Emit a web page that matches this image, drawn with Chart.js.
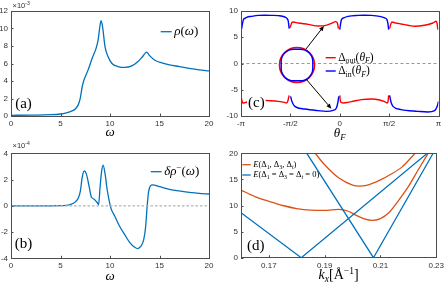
<!DOCTYPE html>
<html>
<head>
<meta charset="utf-8">
<script src="https://cdn.jsdelivr.net/npm/chart.js@4.4.0/dist/chart.umd.min.js"></script>
<style>
html, body { margin: 0; padding: 0; background: #fff; }
#wrap { position: relative; width: 447px; height: 283px; overflow: hidden; }
canvas { position: absolute; }
</style>
</head>
<body>
<div id="wrap">
  <canvas id="ca" width="224" height="145" style="left:0;top:0"></canvas>
  <canvas id="cc" width="223" height="145" style="left:224px;top:0"></canvas>
  <canvas id="cb" width="224" height="143" style="left:0;top:140px"></canvas>
  <canvas id="cd" width="223" height="143" style="left:224px;top:140px"></canvas>
</div>
<script>
// (a) density of states rho(w), units of 1e-3
const omegaA = [0, 2, 4, 5, 5.5, 6, 6.5, 6.8, 7.0, 7.2, 7.4, 7.8, 8.2, 8.6, 8.8, 9.0, 9.1, 9.25, 9.5, 9.8, 10.2, 10.8, 11.5, 12.2, 12.8, 13.3, 13.7, 14.0, 14.5, 15, 16, 17, 18, 19, 20];
const rhoA = [0.08, 0.1, 0.15, 0.23, 0.32, 0.5, 0.8, 1.3, 2.05, 3.4, 4.2, 5.3, 6.6, 7.75, 8.7, 10.4, 10.9, 10.2, 7.9, 6.8, 6.0, 5.65, 5.55, 5.72, 6.2, 6.8, 7.3, 6.9, 6.4, 6.15, 5.85, 5.65, 5.45, 5.28, 5.15];

// (b) delta rho^-(w), units of 1e-4
const omegaB = [0, 4, 5, 5.5, 6, 6.5, 6.8, 7.0, 7.2, 7.4, 7.6, 7.9, 8.1, 8.4, 8.7, 8.85, 9.0, 9.15, 9.3, 9.5, 9.7, 9.9, 10.1, 10.5, 11, 11.5, 12, 12.5, 12.8, 13.1, 13.4, 13.6, 13.75, 13.9, 14.1, 14.3, 15, 16, 17, 18, 19, 20];
const drhoB = [0, 0, 0.01, 0.03, 0.1, 0.3, 0.6, 1.1, 2.2, 2.65, 2.45, 1.45, 0.7, 0.5, 0.25, 0.1, 1.45, 2.6, 3.1, 2.45, 1.3, 0.45, -0.2, -0.82, -1.6, -2.22, -2.8, -3.16, -3.26, -3.1, -2.6, -1.6, -0.05, 1.08, 1.54, 1.6, 1.46, 1.26, 1.13, 1.03, 0.95, 0.9];

// (c) gaps along the Fermi surface, theta in units of pi
const thInTop1 = [-0.993, -0.985, -0.976, -0.96, -0.943, -0.892, -0.825, -0.76, -0.69, -0.623, -0.556, -0.535, -0.522, -0.512];
const gInTop1 = [6.63, 7.6, 8.35, 8.6, 8.79, 8.98, 9.17, 9.2, 9.17, 9.11, 8.86, 8.6, 8.1, 6.63];
const thOutTop1 = [-0.505, -0.495, -0.488, -0.471, -0.421, -0.32, -0.219, -0.152, -0.084, -0.04, -0.024, -0.013];
const gOutTop1 = [6.76, 7.3, 7.71, 7.9, 7.71, 7.46, 7.14, 7.21, 7.65, 7.97, 7.71, 6.63];
const thInTop2 = [0.0, 0.008, 0.017, 0.04, 0.084, 0.185, 0.25, 0.32, 0.404, 0.455, 0.478, 0.488, 0.495];
const gInTop2 = [6.44, 7.5, 8.35, 8.7, 8.98, 9.17, 9.2, 9.17, 8.98, 8.67, 8.35, 7.6, 6.44];
const thOutTop2 = [0.505, 0.515, 0.529, 0.56, 0.623, 0.69, 0.758, 0.859, 0.943, 0.976, 0.986, 0.993];
const gOutTop2 = [6.63, 7.4, 7.9, 7.75, 7.52, 7.28, 7.09, 7.28, 7.71, 8.04, 7.6, 6.44];
const thOutBot1 = [-1.0, -0.99, -0.983, -0.96, -0.9, -0.82, -0.724, -0.623, -0.56, -0.539, -0.525, -0.512];
const gOutBot1 = [-6.25, -7.1, -7.52, -7.45, -7.2, -7.0, -7.08, -7.21, -7.4, -7.52, -7.1, -6.06];
const thInBot1 = [-0.498, -0.488, -0.478, -0.455, -0.354, -0.219, -0.135, -0.067, -0.034, -0.017, -0.01];
const gInBot1 = [-6.25, -7.0, -7.52, -8.16, -8.67, -8.98, -9.11, -8.92, -8.48, -7.2, -6.25];
const thOutBot2 = [0.0, 0.007, 0.02, 0.034, 0.118, 0.219, 0.32, 0.404, 0.455, 0.481, 0.49, 0.495];
const gOutBot2 = [-6.06, -7.2, -7.45, -7.52, -7.27, -6.89, -6.76, -6.95, -7.27, -7.52, -7.1, -6.06];
const thInBot2 = [0.505, 0.515, 0.522, 0.539, 0.623, 0.791, 0.892, 0.96, 0.987, 1.0];
const gInBot2 = [-6.06, -7.0, -7.52, -8.16, -8.79, -9.11, -9.24, -8.98, -8.16, -7.2];
const thetaTicks = [-1, -0.5, 0, 0.5, 1];
const thetaTickLabels = ['-\u03c0', '-\u03c0/2', '0', '\u03c0/2', '\u03c0'];

// (d) bands vs k_x
const kBlue1 = [0.16, 0.1816, 0.2268];
const eBlue1 = [8.6, 0, 20];
const kBlue2 = [0.1836, 0.2075, 0.2289];
const eBlue2 = [20, 0, 20];
const kOrangeUp = [0.1866, 0.19, 0.195, 0.2, 0.2025, 0.205, 0.21, 0.2131, 0.2178, 0.2224];
const eOrangeUp = [20, 17.8, 15.3, 13.9, 13.7, 13.85, 14.9, 15.8, 17.4, 20];
const kOrangeLo = [0.16, 0.165, 0.17, 0.175, 0.18, 0.185, 0.19, 0.195, 0.1985, 0.201, 0.204, 0.207, 0.21, 0.213, 0.216, 0.22, 0.2235, 0.2271];
const eOrangeLo = [12.97, 11.7, 10.8, 10.0, 9.4, 9.1, 9.05, 9.25, 8.9, 8.2, 7.5, 7.15, 7.5, 8.6, 10.6, 13.6, 16.8, 20];
const kTicks = [0.17, 0.19, 0.21, 0.23];
const kTickLabels = ['0.17', '0.19', '0.21', '0.23'];

const BLUE = '#0072BD', ORANGE = '#D95319';
const SERIF = '"Liberation Serif", "DejaVu Serif", serif';
const SANS = '"Liberation Sans", Arial, sans-serif';

function line(xs, ys, color, w, extra) {
    return Object.assign({
        data: xs.map((x, i) => ({ x, y: ys[i] })),
        showLine: true,
        borderColor: color,
        borderWidth: w,
        pointRadius: 0,
        fill: false,
        cubicInterpolationMode: 'monotone'
    }, extra || {});
}

// text with sub/superscripts: kind r, i, sr, si, pr
function rich(ctx, parts, x, y, size, align, fam) {
    fam = fam || SERIF;
    const fonts = parts.map(([t, k]) => {
        const small = k[0] === 's' || k[0] === 'p';
        return (k.slice(-1) === 'i' ? 'italic ' : '') + (small ? size * 0.68 : size).toFixed(1) + 'px ' + fam;
    });
    let w = 0;
    const ws = parts.map(([t], i) => { ctx.font = fonts[i]; const m = ctx.measureText(t).width; w += m; return m; });
    let cx = align === 'center' ? x - w / 2 : x;
    ctx.textAlign = 'left';
    ctx.textBaseline = 'middle';
    parts.forEach(([t, k], i) => {
        ctx.font = fonts[i];
        const dy = k[0] === 's' ? size * 0.3 : k[0] === 'p' ? -size * 0.32 : 0;
        ctx.fillText(t, cx, y + dy);
        cx += ws[i];
    });
}

function arrow(ctx, x0, y0, x1, y1) {
    const a = Math.atan2(y1 - y0, x1 - x0), L = 5, W = 2.2;
    const bx = x1 - L * Math.cos(a), by = y1 - L * Math.sin(a);
    ctx.beginPath(); ctx.moveTo(x0, y0); ctx.lineTo(bx, by); ctx.stroke();
    ctx.beginPath(); ctx.moveTo(x1, y1);
    ctx.lineTo(bx + W * Math.sin(a), by - W * Math.cos(a));
    ctx.lineTo(bx - W * Math.sin(a), by + W * Math.cos(a));
    ctx.closePath(); ctx.fill();
}

function deco(o) {
    return {
        id: 'deco',
        afterDraw(chart) {
            const { ctx, chartArea: a, scales: { x, y } } = chart;
            ctx.save();
            if (o.extra) o.extra(chart);
            // legend
            (o.legend || []).forEach(l => {
                ctx.strokeStyle = l.color; ctx.lineWidth = l.w;
                ctx.beginPath(); ctx.moveTo(l.x0, l.y); ctx.lineTo(l.x1, l.y); ctx.stroke();
                ctx.fillStyle = '#000';
                rich(ctx, l.text, l.x1 + 2.5, l.y, l.size, 'left');
            });
            // panel letter
            ctx.font = '15px ' + SERIF;
            const tw = ctx.measureText(o.tag).width;
            ctx.fillStyle = '#fff';
            ctx.fillRect(o.tagX - tw / 2 - 1, o.tagY - 8, tw + 2, 16);
            ctx.fillStyle = '#000'; ctx.textAlign = 'center'; ctx.textBaseline = 'middle';
            ctx.fillText(o.tag, o.tagX, o.tagY);
            // exponent
            if (o.expo) {
                ctx.fillStyle = '#333';
                rich(ctx, [['\u00d710', 'r'], [o.expo, 'pr']], 12.5, 6, 7.5, 'left', SANS);
            }
            // axis title
            ctx.fillStyle = '#000';
            rich(ctx, o.title, (a.left + a.right) / 2, o.titleY, o.titleSize, 'center');
            // frame and inward ticks
            ctx.strokeStyle = '#4d4d4d'; ctx.lineWidth = 1;
            ctx.strokeRect(Math.round(a.left) + 0.5, Math.round(a.top) + 0.5, Math.round(a.right - a.left), Math.round(a.bottom - a.top));
            ctx.beginPath();
            x.ticks.forEach(t => {
                const p = Math.round(x.getPixelForValue(t.value)) + 0.5;
                ctx.moveTo(p, a.bottom); ctx.lineTo(p, a.bottom - 2.5);
            });
            y.ticks.forEach(t => {
                const p = Math.round(y.getPixelForValue(t.value)) + 0.5;
                ctx.moveTo(a.left, p); ctx.lineTo(a.left + 2.5, p);
            });
            ctx.stroke();
            ctx.restore();
        }
    };
}

function panel(id, datasets, o) {
    const tickFont = { family: SANS, size: 8 };
    return new Chart(document.getElementById(id), {
        type: 'scatter',
        data: { datasets },
        options: {
            responsive: false,
            animation: false,
            events: [],
            layout: { padding: o.pad },
            plugins: { legend: { display: false }, tooltip: { enabled: false } },
            scales: {
                x: {
                    type: 'linear', min: o.xmin, max: o.xmax,
                    grid: { display: false, drawTicks: false }, border: { display: false },
                    ticks: Object.assign({ font: tickFont, color: '#333', padding: 3, maxRotation: 0 }, o.xticks || {}),
                    afterBuildTicks: o.xBuild,
                    afterFit: s => { s.height = o.xh; }
                },
                y: {
                    type: 'linear', min: o.ymin, max: o.ymax,
                    grid: { display: false, drawTicks: false }, border: { display: false },
                    ticks: { font: tickFont, color: '#333', padding: 3, stepSize: o.ystep },
                    afterFit: s => { s.width = o.yw; }
                }
            }
        },
        plugins: [deco(o)]
    });
}

// (a)
panel('ca', [line(omegaA, rhoA, BLUE, 1.3)], {
    pad: { left: 0, right: 15, top: 11, bottom: 0 }, xh: 29, yw: 11,
    xmin: 0, xmax: 20, ymin: 0, ymax: 12, ystep: 2,
    xticks: { stepSize: 5 },
    tag: '(a)', tagX: 23.5, tagY: 104, expo: '-3',
    title: [['\u03c9', 'i']], titleY: 133, titleSize: 13,
    legend: [{ x0: 160.7, x1: 171.7, y: 31.7, color: BLUE, w: 1.3, size: 13,
        text: [['\u03c1', 'i'], ['(', 'r'], ['\u03c9', 'i'], [')', 'r']] }]
});

// (b)
panel('cb', [
    line([0, 20], [0, 0], '#b3b3b3', 1.2, { borderDash: [2.5, 2], cubicInterpolationMode: 'default' }),
    line(omegaB, drhoB, BLUE, 1.3)
], {
    pad: { left: 0, right: 15, top: 13.3, bottom: 0 }, xh: 24.7, yw: 11,
    xmin: 0, xmax: 20, ymin: -4, ymax: 4, ystep: 2,
    xticks: { stepSize: 5 },
    tag: '(b)', tagX: 23.5, tagY: 104, expo: '-4',
    title: [['\u03c9', 'i']], titleY: 136.5, titleSize: 13,
    legend: [{ x0: 150.7, x1: 161.7, y: 31.7, color: BLUE, w: 1.3, size: 13,
        text: [['\u03b4\u03c1', 'i'], ['\u2212', 'pr'], ['(', 'r'], ['\u03c9', 'i'], [')', 'r']] }]
});

// (c)
const RED = '#ff0000', PURE_BLUE = '#0000ff';
function insetC(chart) {
    const { ctx, scales: { x, y } } = chart;
    const cx = 73, cy = 65;
    ctx.lineWidth = 1.6;
    ctx.strokeStyle = RED;
    ctx.beginPath(); ctx.arc(cx, cy, 17.5, 0, 2 * Math.PI); ctx.stroke();
    ctx.lineWidth = 1.4;
    ctx.strokeStyle = PURE_BLUE;
    ctx.beginPath(); ctx.roundRect(cx - 15.8, cy - 15.8, 31.6, 31.6, 12.5); ctx.stroke();
    ctx.strokeStyle = '#000'; ctx.fillStyle = '#000'; ctx.lineWidth = 1;
    arrow(ctx, cx + 9, cy - 16, x.getPixelForValue(-0.16), y.getPixelForValue(7.15));
    arrow(ctx, cx + 9, cy + 14, x.getPixelForValue(-0.085), y.getPixelForValue(-8.6));
}
panel('cc', [
    line([-1, 1], [0, 0], '#999999', 1, { borderDash: [3, 2.5], cubicInterpolationMode: 'default' }),
    line(thInTop1, gInTop1, PURE_BLUE, 1.4),
    line(thInTop2, gInTop2, PURE_BLUE, 1.4),
    line(thInBot1, gInBot1, PURE_BLUE, 1.4),
    line(thInBot2, gInBot2, PURE_BLUE, 1.4),
    line(thOutTop1, gOutTop1, RED, 1.4),
    line(thOutTop2, gOutTop2, RED, 1.4),
    line(thOutBot1, gOutBot1, RED, 1.4),
    line(thOutBot2, gOutBot2, RED, 1.4)
], {
    pad: { left: 0, right: 8.5, top: 11, bottom: 0 }, xh: 29, yw: 17,
    xmin: -1, xmax: 1, ymin: -10, ymax: 10, ystep: 5,
    xticks: { callback: (v, i) => thetaTickLabels[i] },
    xBuild: s => { s.ticks = thetaTicks.map(v => ({ value: v })); },
    tag: '(c)', tagX: 32.3, tagY: 103,
    title: [['\u03b8', 'i'], ['F', 'si']], titleY: 133.5, titleSize: 13,
    extra: insetC,
    legend: [
        { x0: 101.7, x1: 111.7, y: 57.7, color: RED, w: 1.4, size: 11.5,
            text: [['\u0394', 'r'], ['out', 'sr'], ['(', 'r'], ['\u03b8', 'i'], ['F', 'si'], [')', 'r']] },
        { x0: 101.7, x1: 111.7, y: 71, color: PURE_BLUE, w: 1.4, size: 11.5,
            text: [['\u0394', 'r'], ['in', 'sr'], ['(', 'r'], ['\u03b8', 'i'], ['F', 'si'], [')', 'r']] }
    ]
});

// (d)
panel('cd', [
    line(kBlue1, eBlue1, BLUE, 1.3, { cubicInterpolationMode: 'default' }),
    line(kBlue2, eBlue2, BLUE, 1.3, { cubicInterpolationMode: 'default' }),
    line(kOrangeUp, eOrangeUp, ORANGE, 1.3),
    line(kOrangeLo, eOrangeLo, ORANGE, 1.3)
], {
    pad: { left: 0, right: 8.5, top: 13.3, bottom: 0 }, xh: 25.3, yw: 17,
    xmin: 0.16, xmax: 0.23, ymin: 0, ymax: 20, ystep: 5,
    xticks: { callback: (v, i) => kTickLabels[i] },
    xBuild: s => { s.ticks = kTicks.map(v => ({ value: v })); },
    tag: '(d)', tagX: 31.7, tagY: 106.5,
    title: [['k', 'i'], ['x', 'si'], ['[\u00c5', 'r'], ['\u22121', 'pr'], [']', 'r']], titleY: 135.5, titleSize: 14,
    legend: [
        { x0: 18.3, x1: 26.7, y: 24.7, color: ORANGE, w: 1.3, size: 8.5,
            text: [['E', 'i'], ['(\u0394', 'r'], ['1', 'sr'], [', \u0394', 'r'], ['3', 'sr'], [', \u0394', 'r'], ['t', 'si'], [')', 'r']] },
        { x0: 18.3, x1: 26.7, y: 35, color: BLUE, w: 1.3, size: 8.5,
            text: [['E', 'i'], ['(\u0394', 'r'], ['1', 'sr'], [' = \u0394', 'r'], ['3', 'sr'], [' = \u0394', 'r'], ['t', 'si'], [' = 0)', 'r']] }
    ]
});
</script>
</body>
</html>
